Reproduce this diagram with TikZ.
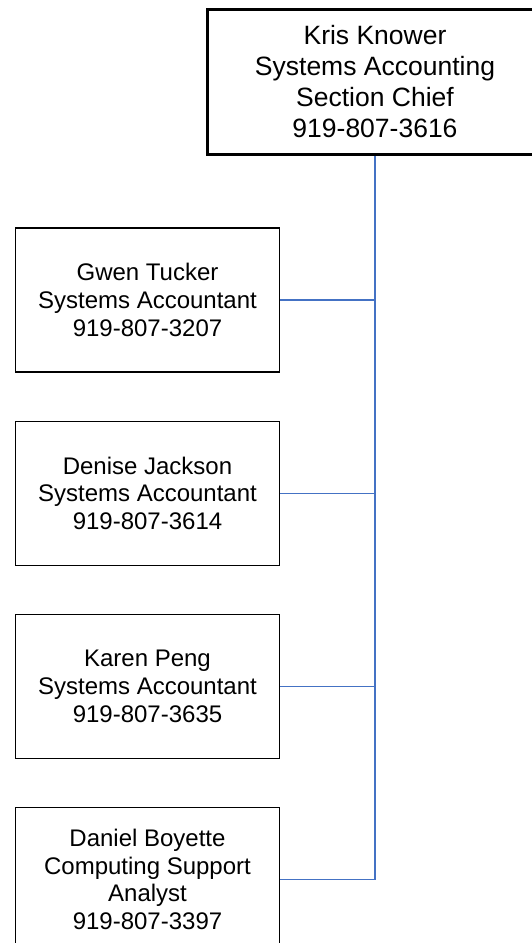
\documentclass[tikz,border=0pt]{standalone}
\usepackage{fontspec}
\setmainfont{Liberation Sans}
\usetikzlibrary{positioning}
\definecolor{linkblue}{RGB}{68,114,196}

\begin{document}
\begin{tikzpicture}[
        x=1pt, y=-1pt,
        chiefbox/.style={draw, line width=3pt, align=center, minimum width=335pt, minimum height=145pt,
            font=\fontsize{26.5}{31}\selectfont},
        staffbox/.style={draw, line width=1.2pt, align=center, minimum width=264pt, minimum height=144pt,
            font=\fontsize{24}{27.6}\selectfont},
        link/.style={draw=linkblue, line width=1.3pt}
    ]
        \useasboundingbox (0,0) rectangle (531,943);

        \node[chiefbox] (chief) at (375,82) {Kris Knower\\Systems Accounting\\Section Chief\\919-807-3616};

        \node[staffbox] (tucker) at (147.5,300) {Gwen Tucker\\Systems Accountant\\919-807-3207};
        \node[staffbox, below=48pt of tucker] (jackson) {Denise Jackson\\Systems Accountant\\919-807-3614};
        \node[staffbox, below=48pt of jackson] (peng) {Karen Peng\\Systems Accountant\\919-807-3635};
        \node[staffbox, below=48pt of peng] (boyette) {Daniel Boyette\\Computing Support\\Analyst\\919-807-3397};

        \draw[link] (chief.south) |- (boyette.east);
        \draw[link] (tucker.east) -- (tucker.east -| chief.south);
        \draw[link] (jackson.east) -- (jackson.east -| chief.south);
        \draw[link] (peng.east) -- (peng.east -| chief.south);
    \end{tikzpicture}
\end{document}
